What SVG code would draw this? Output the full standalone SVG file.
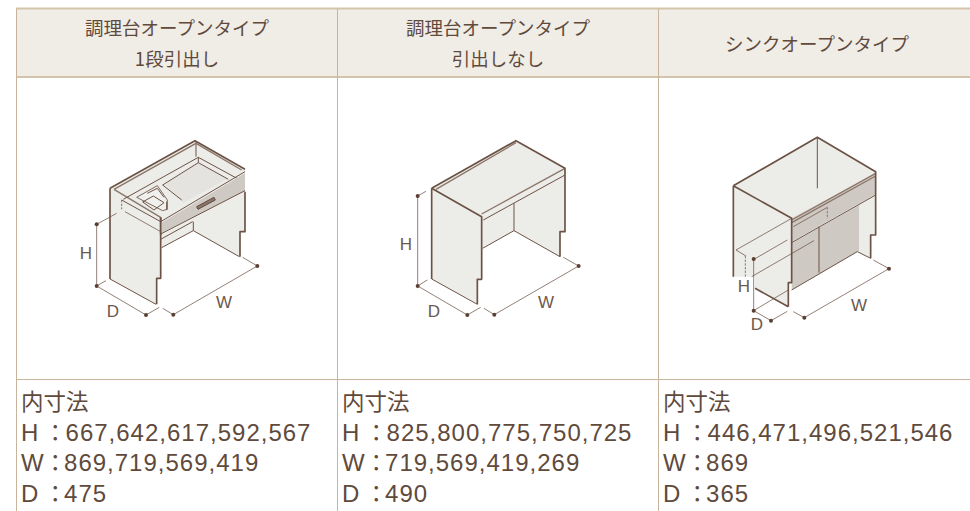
<svg xmlns="http://www.w3.org/2000/svg" width="970" height="511" viewBox="0 0 970 511">
<style>
.h{font:18.500px "Noto Sans CJK JP","Liberation Sans",sans-serif;fill:#5f4a3c;text-anchor:middle}
.b{font:22.500px "Noto Sans CJK JP","Liberation Sans",sans-serif;fill:#5f4a3c}
.a{font:24px "Liberation Sans","Noto Sans CJK JP",sans-serif;fill:#5f4a3c}
.c{font-family:"Noto Sans CJK JP",sans-serif;font-size:22.500px}
.v{letter-spacing:1px}
.l{font:17px "Liberation Sans",sans-serif;fill:#6b5a4e;text-anchor:middle}
.bd{stroke:#c8b49c;stroke-width:1;fill:none}
.p{fill:#ecece9;stroke:none}
.e{fill:none;stroke:#6b5244;stroke-width:5;stroke-linejoin:round}
.t{fill:none;stroke:#8a7668;stroke-width:4}
.d{fill:none;stroke:#6b5244;stroke-width:3}
.m{fill:none;stroke:#6b5244;stroke-width:2.200}
.g{fill:#cfc9c4;stroke:none}
.n{fill:#5a3f32}
.w{fill:none;stroke:#8a7668;stroke-width:3;stroke-dasharray:7 4}
</style>
<rect x="16" y="9" width="954" height="68" fill="#f0ece6"/>
<g id="table" class="bd">
<path d="M16 8.500H970" stroke-width="2" stroke="#d5c4ac"/>
<path d="M16 77H970" stroke-width="2" stroke="#d5c4ac"/>
<path d="M16 379.500H970"/>
<path d="M16.500 9V511M337.500 9V511M658.500 9V511"/>
</g>
<g id="header-1"><text class="h" x="177" y="35">調理台オープンタイプ</text><text class="h" x="177" y="66">1段引出し</text></g>
<g id="header-2"><text class="h" x="498" y="35">調理台オープンタイプ</text><text class="h" x="498" y="66">引出しなし</text></g>
<g id="header-3"><text class="h" x="817" y="51">シンクオープンタイプ</text></g>

<g id="cabinet-1">
<g transform="translate(70 120) scale(.3333)">
<path class="p" d="M120 205L375 62L525 148V335H510V410L370 332L275 383V475H260V553L120 477Z"/>
<path class="d" d="M120 477L258 553M275 383L370 332L508 410M370 332V305M378 65V110"/>
<path class="t" d="M132 208L378 70L515 150M132 208L272 292"/>
<path class="e" d="M120 205V477M120 205L375 62L525 148M272 292V475H260V553M525 215V335H510V410"/>
<path fill="#e4e3df" d="M285 192L385 128L470 178L340 248Z"/>
<path class="d" d="M160 238L385 112L510 180M278 195L385 128L475 178M335 240L278 195M385 112V128"/>
<path fill="#f0f0ee" stroke="#7d685a" stroke-width="3" d="M200 232L262 197L292 240V268L278 272L200 232Z"/>
<path class="d" d="M218 246L250 228L282 248L252 270ZM232 220L262 205L282 232M290 245V270"/>
<path class="g" d="M272 310L525 160V212L272 340Z"/>
<path class="d" d="M272 305L525 155M272 342L525 212M272 358L368 305M155 240L272 305"/>
<path class="e" d="M272 292V345"/>
<path fill="#8a7668" stroke="#5f4a3c" stroke-width="3" d="M380 260L432 232L436 240L384 268Z"/>
<path class="w" d="M155 240V268"/>
<path class="m" d="M80 313L140 280M80 313V498M80 498L108 482M80 498L228 585L268 562M278 565L310 584L562 438L518 412M165 275L272 335"/>
<circle class="n" cx="80" cy="313" r="6"/><circle class="n" cx="80" cy="498" r="6"/><circle class="n" cx="228" cy="585" r="6"/><circle class="n" cx="310" cy="584" r="6"/><circle class="n" cx="562" cy="438" r="6"/>
</g>
<text class="l" x="86" y="259">H</text><text class="l" x="113" y="317">D</text><text class="l" x="224" y="308">W</text>
</g>

<g id="cabinet-2">
<g transform="translate(390 120) scale(.3333)">
<path class="p" d="M125 205L378 62L525 145V335H510V410L372 332L278 385V475H265V553L125 477Z"/>
<path class="d" d="M125 477L262 553M278 385L372 332L510 410M280 300L525 165M372 250V332" />
<path class="t" d="M138 208L378 68M275 282L525 145"/>
<path class="e" d="M125 205V477M125 205L275 290V478H262V553M125 205L378 62L525 145V335H510V410"/>
<path class="m" d="M83 228L108 214M83 228V498M83 498L112 480M83 498L232 585L272 562M282 565L313 584L566 438L520 412"/>
<circle class="n" cx="83" cy="228" r="6"/><circle class="n" cx="83" cy="498" r="6"/><circle class="n" cx="232" cy="585" r="6"/><circle class="n" cx="313" cy="584" r="6"/><circle class="n" cx="566" cy="438" r="6"/>
</g>
<text class="l" x="406" y="250">H</text><text class="l" x="434" y="317">D</text><text class="l" x="546" y="308">W</text>
</g>

<g id="cabinet-3">
<g transform="translate(710 120) scale(.3333)">
<path class="p" d="M70 197L322 52L497 155V345H482V415L442 395V255L245 370V490H235V560L135 505V470H70Z"/>
<path class="g" d="M245 295L497 160V222L245 365Z"/>
<path class="g" d="M245 370L447 255V392L245 510Z"/>
<path class="d" d="M322 52V205M327 320V458M245 510L442 395L482 415M245 368L497 225"/>
<path class="t" d="M245 300L497 160M245 308L497 168"/>
<path class="e" d="M70 197V470M70 197L245 295V488H235V560M70 197L322 52L497 155V225M497 225V345H482V415M135 505L235 560"/>
<path class="m" d="M78 390L245 295M78 390L108 408M125 470L312 362M132 418L232 360M352 262L250 320"/>
<path class="w" d="M106 408V470M352 262V296"/>
<path class="m" d="M131 417V572M131 572L235 510M131 572L183 602L232 574M250 575L283 593L537 446L490 420"/>
<circle class="n" cx="131" cy="417" r="6"/><circle class="n" cx="131" cy="572" r="6"/><circle class="n" cx="183" cy="602" r="6"/><circle class="n" cx="283" cy="593" r="6"/><circle class="n" cx="537" cy="446" r="6"/>
</g>
<text class="l" x="744" y="292">H</text><text class="l" x="757" y="330">D</text><text class="l" x="859" y="311">W</text>
</g>

<g id="spec-1"><text class="b" x="21" y="410">内寸法</text>
<text class="a" x="21" y="441">H<tspan class="c" dx="5.700">：</tspan><tspan class="v" dx="-1">667,642,617,592,567</tspan></text>
<text class="a" x="21" y="471">W<tspan class="c" dx="0.400">：</tspan><tspan class="v" dx="-2.500">869,719,569,419</tspan></text>
<text class="a" x="21" y="502">D<tspan class="c" dx="5.700">：</tspan><tspan class="v" dx="-2.500">475</tspan></text></g>
<g id="spec-2"><text class="b" x="342" y="410">内寸法</text>
<text class="a" x="342" y="441">H<tspan class="c" dx="5.700">：</tspan><tspan class="v" dx="-1">825,800,775,750,725</tspan></text>
<text class="a" x="342" y="471">W<tspan class="c" dx="0.400">：</tspan><tspan class="v" dx="-2.500">719,569,419,269</tspan></text>
<text class="a" x="342" y="502">D<tspan class="c" dx="5.700">：</tspan><tspan class="v" dx="-2.500">490</tspan></text></g>
<g id="spec-3"><text class="b" x="663" y="410">内寸法</text>
<text class="a" x="663" y="441">H<tspan class="c" dx="5.700">：</tspan><tspan class="v" dx="-1">446,471,496,521,546</tspan></text>
<text class="a" x="663" y="471">W<tspan class="c" dx="0.400">：</tspan><tspan class="v" dx="-2.500">869</tspan></text>
<text class="a" x="663" y="502">D<tspan class="c" dx="5.700">：</tspan><tspan class="v" dx="-2.500">365</tspan></text></g>
</svg>
